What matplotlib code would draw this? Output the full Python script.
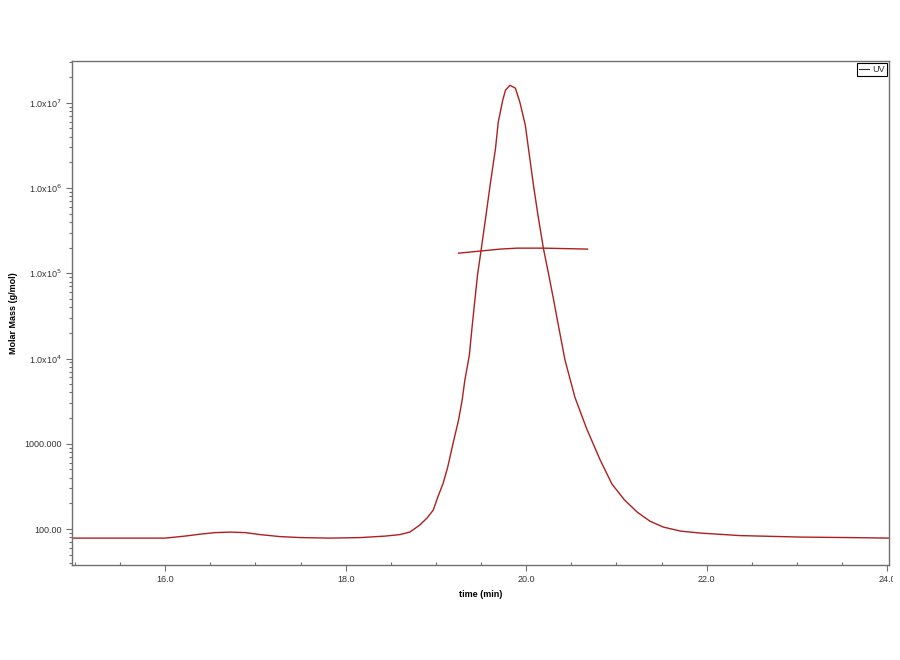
import numpy as np
import matplotlib
matplotlib.use("Agg")
import matplotlib.pyplot as plt
from matplotlib.ticker import FixedLocator, FixedFormatter, LogLocator, MultipleLocator
from matplotlib.lines import Line2D
from matplotlib.transforms import Bbox

plt.rcParams['font.family'] = ['Liberation Sans', 'DejaVu Sans']

# UV trace (time in min, plotted on the molar mass axis)
uv_time = [14.97, 15.50, 16.00, 16.22, 16.39, 16.55, 16.72, 16.89, 17.05, 17.27,
           17.50, 17.83, 18.16, 18.44, 18.60, 18.71, 18.82, 18.90, 18.97, 19.02,
           19.08, 19.13, 19.19, 19.25, 19.29, 19.32, 19.37, 19.40, 19.46, 19.50,
           19.55, 19.60, 19.66, 19.69, 19.74, 19.77, 19.82, 19.88, 19.93, 19.99,
           20.02, 20.08, 20.13, 20.19, 20.25, 20.30, 20.36, 20.43, 20.54, 20.67,
           20.82, 20.95, 21.09, 21.23, 21.37, 21.52, 21.71, 21.93, 22.37, 23.04,
           23.59, 24.02]
uv_val = [78.4, 78.4, 78.4, 82.8, 87.3, 90.9, 92.2, 90.9, 86.2, 81.7,
          79.5, 78.4, 79.5, 82.8, 86.2, 92.2, 111.4, 134.6, 167, 237,
          346, 533, 1019, 1896, 3254, 5580, 10960, 23350, 95100, 186700,
          442600, 1.08e6, 2.93e6, 5.91e6, 1.07e7, 1.40e7, 1.60e7, 1.48e7, 1.01e7, 5.45e6,
          3.17e6, 1.08e6, 4.80e5, 1.97e5, 95100, 51000, 23350, 9570, 3500, 1500,
          644, 337, 219, 158, 124, 105.5, 94.7, 89.8, 83.9, 80.6,
          79.5, 78.4]

# molar mass across the peak
mm_time = [19.25, 19.49, 19.71, 19.90, 20.19, 20.68]
mm_val = [1.72e5, 1.82e5, 1.92e5, 1.97e5, 1.97e5, 1.92e5]

ytick_vals = [100, 1000, 1e4, 1e5, 1e6, 1e7]
ytick_labels = ["100.00", "1000.000", r"1.0x10$^{4}$", r"1.0x10$^{5}$",
                r"1.0x10$^{6}$", r"1.0x10$^{7}$"]
xtick_vals = [16.0, 18.0, 20.0, 22.0, 24.0]

red = '#b01e1e'
grey = '#707070'

fig = plt.figure(figsize=(9, 6.6), dpi=100)
ax = fig.add_axes([0.0803, 0.1439, 0.9075, 0.7640])

ax.plot(uv_time, uv_val, color=red, lw=1.0)
ax.plot(mm_time, mm_val, color=red, lw=1.0)

ax.set_yscale('log')
ax.set_xlim(14.97, 24.02)
ax.set_ylim(37.9, 3.1e7)

ax.yaxis.set_major_locator(FixedLocator(ytick_vals))
ax.yaxis.set_major_formatter(FixedFormatter(ytick_labels))
ax.yaxis.set_minor_locator(LogLocator(base=10, subs=np.arange(2, 10)))
ax.xaxis.set_major_locator(FixedLocator(xtick_vals))
ax.xaxis.set_major_formatter(FixedFormatter(["%.1f" % v for v in xtick_vals]))
ax.xaxis.set_minor_locator(MultipleLocator(0.5))

ax.tick_params(which='both', direction='out', colors=grey, labelcolor='#333333',
               labelsize=6.5, width=0.8)
ax.tick_params(which='major', length=4)
ax.tick_params(which='minor', length=2.5)
ax.tick_params(axis='x', which='minor', length=2, direction='in')

for sp in ax.spines.values():
    sp.set_color(grey)
    sp.set_linewidth(1.0)

ax.set_xlabel("time (min)", fontsize=6.5, fontweight='bold')
ax.xaxis.set_label_coords(0.5, -0.05)
ax.set_ylabel("Molar Mass (g/mol)", fontsize=6.5, fontweight='bold')
ax.yaxis.set_label_coords(-0.066, 0.5)

leg = ax.legend(handles=[Line2D([], [], color='#333333', lw=0.8)], labels=['UV'],
                loc='upper right', fontsize=6.5, handlelength=1.1, handletextpad=0.35,
                borderpad=0.2, borderaxespad=0.25, fancybox=False, framealpha=1,
                edgecolor='black')
leg.get_frame().set_linewidth(0.8)
for t in leg.get_texts():
    t.set_color('#333333')

# the last x label is cut at the picture edge
fig.canvas.draw()
for lbl in ax.get_xticklabels():
    if lbl.get_text() == "24.0":
        lbl.set_clip_box(Bbox.from_extents(0, 0, 893, 660))
        lbl.set_clip_on(True)

fig.savefig("out.png", dpi=100)
